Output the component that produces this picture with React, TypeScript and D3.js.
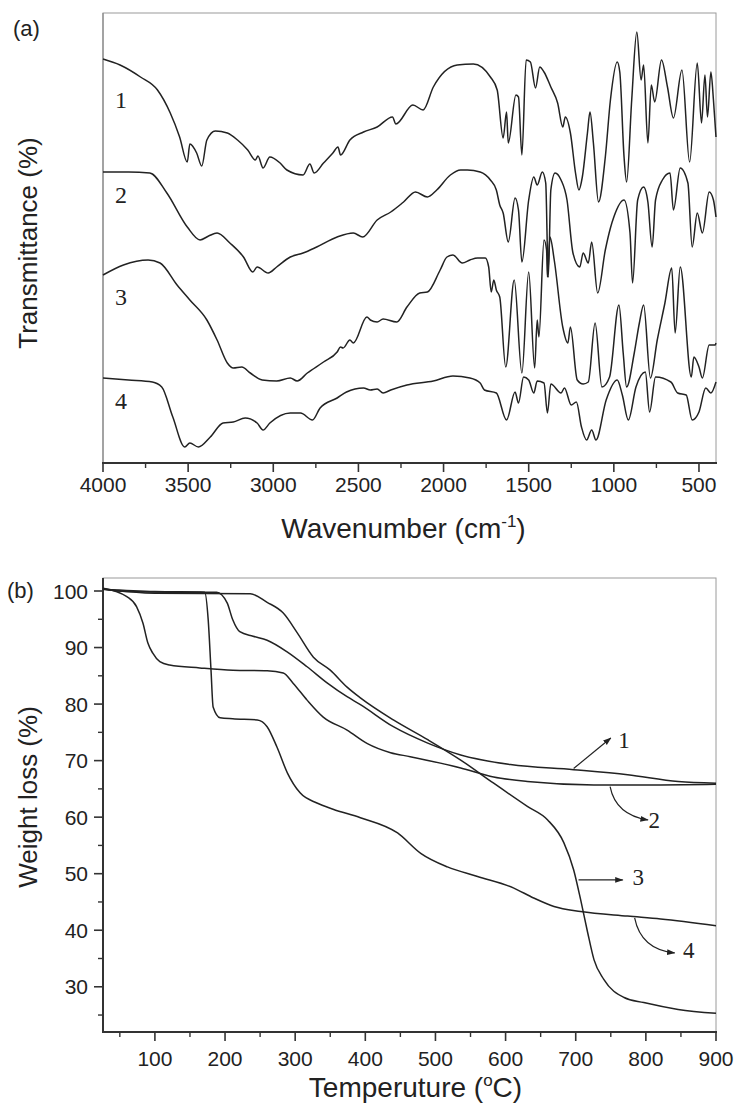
import React from 'react';
import * as d3 from 'd3';

// ---------- Panel (a): FTIR spectra (wavenumber cm-1, transmittance a.u. with offsets) ----------
const ftir1: [number, number][] = [
  [4000, 80.8], [3900, 79.6], [3780, 77.2], [3680, 74.6], [3605, 70], [3550, 65.2], [3505, 60.2], [3490, 63.8],
  [3450, 62], [3420, 59.4], [3390, 64.6], [3340, 66.4], [3270, 66], [3210, 64.6], [3150, 62.6], [3105, 60.6],
  [3090, 61.4], [3060, 59], [3020, 61.2], [2960, 60], [2920, 58.6], [2825, 57.6], [2785, 59.8], [2760, 58],
  [2705, 60], [2650, 62], [2620, 63.2], [2605, 61.6], [2550, 64.6], [2470, 66.2], [2390, 67.2], [2300, 69.2],
  [2280, 67.8], [2180, 71.6], [2120, 70.6], [2060, 75.2], [1920, 79.6], [1825, 79.8], [1725, 77.2], [1685, 74.6],
  [1650, 65], [1630, 70.2], [1620, 64], [1575, 73.6], [1560, 73.2], [1540, 61.6], [1515, 80.6], [1490, 80.2],
  [1460, 75], [1435, 79.2], [1410, 78.2], [1370, 75.2], [1330, 72], [1300, 67.2], [1285, 69.2], [1255, 66],
  [1225, 58], [1205, 54.6], [1185, 57.2], [1155, 66], [1140, 70.2], [1120, 64], [1090, 52.2], [1050, 61.2],
  [1020, 72.6], [980, 80.2], [965, 78.2], [940, 61.2], [925, 56.2], [895, 72.6], [865, 86.2], [840, 76.6],
  [825, 79.6], [800, 64], [780, 75.6], [760, 72.2], [720, 80.6], [685, 75.2], [650, 69], [600, 78.6],
  [555, 60.2], [510, 80], [485, 68], [465, 77.6], [450, 69.2], [430, 78.2], [415, 72.6], [400, 65.2],
];
const ftir2: [number, number][] = [
  [4000, 58.2], [3850, 58.2], [3725, 58], [3625, 54], [3505, 47.2], [3430, 44.6], [3380, 45.4], [3330, 46],
  [3255, 44], [3175, 41.2], [3120, 38.2], [3095, 39.2], [3030, 38], [2980, 39.2], [2900, 41.2], [2825, 42],
  [2745, 43.2], [2625, 45.2], [2530, 46], [2475, 45.2], [2390, 48.6], [2310, 50.2], [2235, 52.2], [2165, 54.2],
  [2095, 53.2], [2040, 54.6], [1960, 57.6], [1900, 58.6], [1860, 58.6], [1785, 58.2], [1725, 56.6], [1690, 54.6],
  [1670, 51.6], [1650, 50], [1620, 44.2], [1580, 53], [1560, 50.6], [1540, 40.2], [1500, 52.6], [1470, 57.2],
  [1450, 55.6], [1420, 58.2], [1400, 56], [1385, 37.2], [1370, 54.6], [1345, 58], [1310, 56.6], [1275, 52.6],
  [1240, 42], [1200, 39.2], [1180, 42], [1150, 40], [1130, 44.2], [1095, 34], [1050, 42.6], [1020, 47],
  [1000, 49.2], [940, 52.6], [905, 46], [890, 36], [860, 52.6], [825, 55.2], [800, 52.2], [775, 43.2],
  [755, 52.6], [715, 56.6], [670, 58], [650, 50.6], [610, 59], [565, 56], [540, 43.2], [510, 50],
  [480, 46], [440, 54.2], [415, 52.6], [400, 49.2],
];
const ftir3: [number, number][] = [
  [4000, 37.6], [3880, 39.6], [3735, 40.6], [3665, 40], [3565, 35.6], [3490, 32.6], [3390, 28.6], [3330, 24.6],
  [3270, 20], [3235, 19], [3185, 19.2], [3135, 18], [3065, 16.6], [2980, 16.4], [2900, 17], [2860, 16.4],
  [2800, 18], [2705, 20.2], [2625, 22.2], [2605, 23.2], [2590, 23], [2550, 24.6], [2530, 24], [2450, 29.2],
  [2430, 28.6], [2390, 28.2], [2355, 28.8], [2275, 28.2], [2215, 31.2], [2140, 34], [2095, 34.2], [2020, 38.6],
  [1980, 41.2], [1945, 41.6], [1890, 40], [1845, 40.6], [1800, 41], [1755, 41], [1735, 39.2], [1720, 34.2],
  [1705, 36.6], [1690, 34.6], [1670, 33.2], [1635, 19.2], [1585, 36.6], [1540, 18], [1500, 38.2], [1465, 19],
  [1450, 28.6], [1440, 25.2], [1410, 44.6], [1395, 42.6], [1390, 37.2], [1375, 45.2], [1350, 40.6], [1300, 27.2],
  [1270, 24], [1255, 27.2], [1215, 16.6], [1180, 15.8], [1150, 16.2], [1110, 28], [1070, 15.2], [1025, 17.2],
  [970, 31.6], [945, 22], [925, 15.2], [880, 22], [850, 28], [825, 31.6], [785, 17], [745, 24.6],
  [700, 32], [660, 39], [640, 26], [610, 39.2], [545, 17.2], [530, 21.2], [500, 19.2], [480, 17],
  [440, 23.6], [405, 23.6], [400, 24],
];
const ftir4: [number, number][] = [
  [4000, 17], [3850, 16.6], [3710, 16.2], [3655, 15.2], [3590, 9.2], [3520, 3.2], [3490, 4], [3440, 3.2],
  [3370, 5.2], [3295, 8], [3235, 8.2], [3165, 9], [3095, 8], [3060, 6.6], [3020, 8], [2900, 10],
  [2840, 10], [2770, 8.6], [2725, 11], [2625, 13], [2570, 14.2], [2470, 15], [2430, 14.6], [2390, 14.8],
  [2355, 14], [2310, 14.6], [2215, 15.6], [2060, 16.4], [1945, 17.4], [1845, 17], [1785, 16], [1760, 14.6],
  [1690, 14], [1630, 8.6], [1580, 14.2], [1560, 12], [1530, 17.2], [1500, 16.6], [1470, 14], [1450, 16.4],
  [1410, 16], [1390, 10], [1370, 15.8], [1310, 14], [1290, 15], [1250, 11.6], [1220, 12.2], [1190, 7.2],
  [1160, 4.6], [1130, 6.6], [1105, 4.6], [1045, 12.6], [980, 16.6], [950, 13.6], [915, 8.6], [870, 15.2],
  [815, 18.2], [790, 10.2], [755, 17.2], [665, 16.2], [625, 14], [575, 13.6], [540, 8.6], [500, 10.2],
  [460, 15], [430, 14], [400, 16.2],
];
const ftirSeries = [ftir1, ftir2, ftir3, ftir4];
const ftirLabels = ['1', '2', '3', '4'];
const ftirLabelPos: [number, number][] = [[3894, 72.6], [3894, 53.6], [3894, 33.2], [3894, 12.4]];
const ftirMajorTicks = [4000, 3500, 3000, 2500, 2000, 1500, 1000, 500];
const ftirMinorTicks = [3750, 3250, 2750, 2250, 1750, 1250, 750];

// ---------- Panel (b): TGA (temperature °C, weight %) ----------
const tga1: [number, number][] = [
  [26, 100.4], [60, 99.9], [120, 99.8], [188, 99.8], [203, 97.9], [211, 94.9], [221, 92.8], [240, 92.0],
  [260, 91.3], [289, 89.2], [317, 86.6], [346, 83.7], [374, 81.3], [393, 79.9], [440, 76.0], [489, 73.1],
  [536, 71.0], [607, 69.3], [697, 68.4], [774, 67.5], [846, 66.3], [900, 66.0],
];
const tga2: [number, number][] = [
  [26, 100.5], [60, 99.0], [74, 97.2], [83, 94.3], [90, 90.8], [97, 89.0], [107, 87.5], [121, 86.9],
  [164, 86.4], [211, 86.0], [260, 85.9], [283, 85.5], [297, 83.7], [317, 80.7], [340, 77.7], [374, 75.4],
  [403, 73.0], [436, 71.4], [464, 70.7], [536, 68.7], [583, 67.1], [631, 66.3], [726, 65.7], [821, 65.7],
  [900, 65.8],
];
const tga3: [number, number][] = [
  [26, 100.3], [100, 99.6], [236, 99.5], [260, 98.0], [283, 96.1], [303, 92.6], [326, 88.3], [350, 86.0],
  [374, 83.0], [393, 81.1], [440, 77.2], [489, 73.7], [536, 70.1], [583, 66.0], [631, 61.9], [660, 59.5],
  [683, 55.5], [697, 50.7], [707, 45.4], [717, 39.6], [726, 34.8], [740, 31.3], [769, 28.1], [797, 27.2],
  [846, 26.0], [900, 25.3],
];
const tga4: [number, number][] = [
  [26, 100.3], [100, 99.9], [171, 99.8], [176, 94.9], [180, 86.0], [183, 79.5], [193, 77.6], [211, 77.4],
  [246, 77.2], [260, 76.0], [274, 72.4], [289, 67.8], [307, 64.3], [331, 62.5], [354, 61.4], [393, 59.9],
  [446, 57.2], [479, 53.6], [517, 51.2], [560, 49.5], [611, 47.5], [640, 45.7], [669, 44.2], [707, 43.3],
  [774, 42.5], [821, 42.0], [900, 40.8],
];
const tgaSeries = [tga1, tga2, tga3, tga4];
const tgaYMajor = [30, 40, 50, 60, 70, 80, 90, 100];
const tgaYMinor = [25, 35, 45, 55, 65, 75, 85, 95];
const tgaXMajor = [100, 200, 300, 400, 500, 600, 700, 800, 900];
const tgaXMinor = [50, 150, 250, 350, 450, 550, 650, 750, 850];

// annotations in data coordinates: label, label position, arrow path points (start, [control], end)
const tgaNotes = [
  { label: '1', at: [769, 73.7], path: [[697, 68.6], [750, 74.0]] },
  { label: '2', at: [812, 59.5], path: [[749, 65.4], [757, 60.4], [803, 59.5]] },
  { label: '3', at: [789, 49.5], path: [[704, 48.9], [767, 48.9]] },
  { label: '4', at: [861, 36.6], path: [[784, 42.2], [793, 36.6], [841, 36.0]] },
];

const SANS = '"Liberation Sans", Arial, Helvetica, sans-serif';
const SERIF = '"Liberation Serif", "Times New Roman", serif';
const INK = '#222';

export default function App() {
  // panel (a) frame
  const aL = 103, aR = 716, aT = 13, aB = 463;
  const irX = d3.scaleLinear().domain([4000, 400]).range([aL, aR]);
  const irY = d3.scaleLinear().domain([0, 90]).range([aB, aT]);
  const irLine = d3.line<[number, number]>().x(d => irX(d[0])).y(d => irY(d[1])).curve(d3.curveMonotoneX);

  // panel (b) frame
  const bL = 103, bR = 716, bT = 578, bB = 1032;
  const tX = d3.scaleLinear().domain([26, 900]).range([bL, bR]);
  const tY = d3.scaleLinear().domain([22, 102.3]).range([bB, bT]);
  const tLine = d3.line<[number, number]>().x(d => tX(d[0])).y(d => tY(d[1])).curve(d3.curveMonotoneX);

  const notePath = (pts: number[][]) => {
    const p = pts.map(q => [tX(q[0]), tY(q[1])]);
    if (p.length === 2) return `M${p[0][0]},${p[0][1]}L${p[1][0]},${p[1][1]}`;
    return `M${p[0][0]},${p[0][1]}Q${p[1][0]},${p[1][1]} ${p[2][0]},${p[2][1]}`;
  };

  return (
    <svg width={736} height={1108} viewBox="0 0 736 1108"
      style={{ position: 'absolute', left: 0, top: 0, background: '#fff' }}>
      <defs>
        <marker id="ah" viewBox="0 0 10 10" refX="9" refY="5" markerWidth="7" markerHeight="7" orient="auto">
          <path d="M0,1.5 L10,5 L0,8.5 z" fill={INK} />
        </marker>
      </defs>

      {/* ================= Panel (a) ================= */}
      <text x={13} y={36} fontFamily={SANS} fontSize={22} fill={INK}>(a)</text>
      <rect x={aL} y={aT} width={aR - aL} height={aB - aT} fill="none" stroke="#9a9a9a" strokeWidth={1} />
      <line x1={aL} y1={aT} x2={aL} y2={aB} stroke="#888" strokeWidth={1.2} />
      <line x1={aL - 1} y1={aB} x2={aR + 1} y2={aB} stroke="#333" strokeWidth={2} />
      {ftirMajorTicks.map(v => (
        <g key={'am' + v}>
          <line x1={irX(v)} x2={irX(v)} y1={aB} y2={aB + 9} stroke="#333" strokeWidth={1.6} />
          <text x={irX(v)} y={492} textAnchor="middle" fontFamily={SANS} fontSize={21} fill={INK}>{v}</text>
        </g>
      ))}
      {ftirMinorTicks.map(v => (
        <line key={'an' + v} x1={irX(v)} x2={irX(v)} y1={aB} y2={aB + 5} stroke="#333" strokeWidth={1.4} />
      ))}
      <text x={(aL + aR) / 2 - 6} y={538} textAnchor="middle" fontFamily={SANS} fontSize={28} fill={INK}>
        Wavenumber (cm<tspan dy={-11} fontSize={17}>-1</tspan><tspan dy={11}>)</tspan>
      </text>
      <text transform={`translate(37,${(aT + aB) / 2 + 5}) rotate(-90)`} textAnchor="middle"
        fontFamily={SANS} fontSize={26} fill={INK}>Transmittance (%)</text>
      {ftirSeries.map((s, i) => (
        <path key={'ir' + i} d={irLine(s) || ''} fill="none" stroke={INK} strokeWidth={1.5} strokeLinejoin="round" />
      ))}
      {ftirLabels.map((l, i) => (
        <text key={'il' + i} x={irX(ftirLabelPos[i][0])} y={irY(ftirLabelPos[i][1])} dy="0.35em"
          textAnchor="middle" fontFamily={SERIF} fontSize={24} fill={INK}>{l}</text>
      ))}

      {/* ================= Panel (b) ================= */}
      <text x={7} y={598} fontFamily={SANS} fontSize={22} fill={INK}>(b)</text>
      <rect x={bL} y={bT} width={bR - bL} height={bB - bT} fill="none" stroke="#9a9a9a" strokeWidth={1} />
      <line x1={bL} y1={bT} x2={bL} y2={bB + 1} stroke="#333" strokeWidth={2} />
      <line x1={bL - 1} y1={bB} x2={bR + 1} y2={bB} stroke="#333" strokeWidth={2} />
      {tgaYMajor.map(v => (
        <g key={'by' + v}>
          <line x1={bL - 9} x2={bL} y1={tY(v)} y2={tY(v)} stroke="#333" strokeWidth={1.6} />
          <text x={88} y={tY(v)} dy="0.36em" textAnchor="end" fontFamily={SANS} fontSize={21} fill={INK}>{v}</text>
        </g>
      ))}
      {tgaYMinor.map(v => (
        <line key={'bym' + v} x1={bL - 5} x2={bL} y1={tY(v)} y2={tY(v)} stroke="#333" strokeWidth={1.4} />
      ))}
      {tgaXMajor.map(v => (
        <g key={'bx' + v}>
          <line x1={tX(v)} x2={tX(v)} y1={bB} y2={bB + 9} stroke="#333" strokeWidth={1.6} />
          <text x={tX(v)} y={1066} textAnchor="middle" fontFamily={SANS} fontSize={21} fill={INK}>{v}</text>
        </g>
      ))}
      {tgaXMinor.map(v => (
        <line key={'bxm' + v} x1={tX(v)} x2={tX(v)} y1={bB} y2={bB + 5} stroke="#333" strokeWidth={1.4} />
      ))}
      <text x={(bL + bR) / 2 + 6} y={1097} textAnchor="middle" fontFamily={SANS} fontSize={28} fill={INK}>
        Temperuture (<tspan dy={-11} fontSize={17}>o</tspan><tspan dy={11}>C)</tspan>
      </text>
      <text transform={`translate(37,797) rotate(-90)`} textAnchor="middle"
        fontFamily={SANS} fontSize={26} fill={INK}>Weight loss (%)</text>
      {tgaSeries.map((s, i) => (
        <path key={'tg' + i} d={tLine(s) || ''} fill="none" stroke={INK} strokeWidth={1.5} strokeLinejoin="round" />
      ))}
      {tgaNotes.map((n, i) => (
        <g key={'tn' + i}>
          <path d={notePath(n.path)} fill="none" stroke={INK} strokeWidth={1.2} markerEnd="url(#ah)" />
          <text x={tX(n.at[0])} y={tY(n.at[1])} dy="0.35em" textAnchor="middle" fontFamily={SERIF}
            fontSize={23} fill={INK}>{n.label}</text>
        </g>
      ))}
    </svg>
  );
}
